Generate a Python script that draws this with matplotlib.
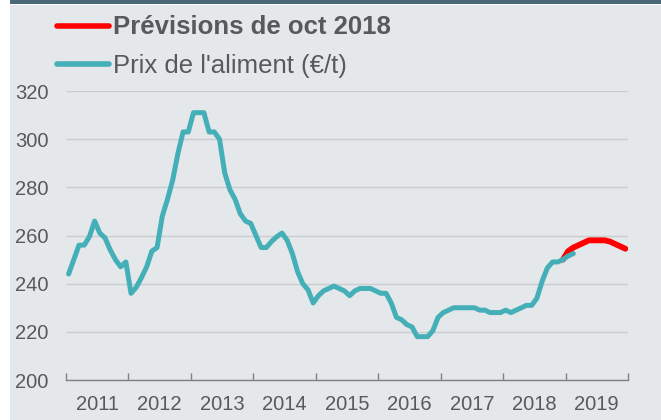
import numpy as np
import matplotlib.pyplot as plt
from matplotlib.lines import Line2D

# prix mensuel de l'aliment (€/t), janvier 2011 -> fevrier 2019
prix = [244, 250, 256, 256, 259.5, 266, 261, 259, 254, 250, 247, 249,
        236, 238.5, 242.5, 247, 253.5, 255, 268, 275, 283, 294, 303, 303,
        311, 311, 311, 303, 303, 300, 286, 279, 275, 269, 266, 265,
        260, 255, 255, 257.5, 259.5, 261, 258, 252.5, 245, 240, 237.5, 232,
        235, 237, 238, 239, 238, 237, 235, 237, 238, 238, 238, 237,
        236, 236, 232, 226, 225, 223, 222, 218, 218, 218, 220.5, 226,
        228, 229, 230, 230, 230, 230, 230, 229, 229, 228, 228, 228,
        229, 228, 229, 230, 231, 231, 234, 241, 246.5, 249, 249, 250,
        251.5, 252.5]
# previsions d'octobre 2018, decembre 2018 -> decembre 2019
prevision = [250, 253.5, 255, 256, 257, 258, 258, 258, 258, 257.5, 256.5, 255.5, 254.5]
prev_debut = 95
annees = ['2011', '2012', '2013', '2014', '2015', '2016', '2017', '2018', '2019']

bg = '#E4E8EB'
teal = '#45AFB7'
rouge = '#FF0000'
gris = '#595959'

plt.rcParams['font.family'] = ['Liberation Sans', 'DejaVu Sans']

fig = plt.figure(figsize=(6.61, 4.2), dpi=100)
fig.patch.set_facecolor('white')
# fond gris et bandeau du haut
fig.add_artist(plt.Rectangle((10 / 661, 0), 651 / 661, 415 / 420, transform=fig.transFigure,
                             facecolor=bg, edgecolor='none', zorder=-10))
fig.add_artist(plt.Rectangle((10 / 661, 416 / 420), 651 / 661, 4 / 420, transform=fig.transFigure,
                             facecolor='#4A6878', edgecolor='none', zorder=-10))

ax = fig.add_axes([66 / 661, 40 / 420, 562 / 661, 289 / 420])
ax.set_facecolor(bg)

x_prix = np.arange(len(prix))
x_prev = np.arange(prev_debut, prev_debut + len(prevision))
ax.plot(x_prev, prevision, color=rouge, lw=4.2, solid_capstyle='round', zorder=3)
ax.plot(x_prix, prix, color=teal, lw=3.6, solid_capstyle='round', zorder=4)

ax.set_xlim(-0.5, 12 * len(annees) - 0.5)
ax.set_ylim(200, 320)
ax.set_yticks(np.arange(200, 321, 20))
ax.yaxis.grid(True, color='#C9CDD1', lw=1)
ax.set_axisbelow(True)

ax.set_xticks(np.arange(len(annees) + 1) * 12 - 0.5)
ax.set_xticklabels([])
ax.set_xticks(np.arange(len(annees)) * 12 + 5.5, minor=True)
ax.set_xticklabels(annees, minor=True)
ax.tick_params(axis='x', which='major', direction='in', length=5, color='#808080', width=1)
ax.tick_params(axis='x', which='minor', length=0, pad=11, labelsize=14.5, labelcolor=gris)
ax.tick_params(axis='y', length=0, pad=12.5, labelsize=14.5, labelcolor=gris)

for s in ['top', 'right', 'left']:
    ax.spines[s].set_visible(False)
ax.spines['bottom'].set_color('#808080')
ax.spines['bottom'].set_linewidth(1)

# legende
fig.add_artist(Line2D([57 / 661, 109 / 661], [1 - 26 / 420] * 2, color=rouge, lw=4,
                      solid_capstyle='round', transform=fig.transFigure))
fig.add_artist(Line2D([57 / 661, 109 / 661], [1 - 64 / 420] * 2, color=teal, lw=4,
                      solid_capstyle='round', transform=fig.transFigure))
fig.text(113 / 661, 1 - 34 / 420, 'Prévisions de oct 2018', fontsize=18.5, fontweight='bold',
         color=gris, va='baseline', ha='left')
fig.text(113 / 661, 1 - 73 / 420, "Prix de l'aliment (€/t)", fontsize=18.5,
         color=gris, va='baseline', ha='left')

fig.savefig('out.png', dpi=100, facecolor=fig.get_facecolor())
